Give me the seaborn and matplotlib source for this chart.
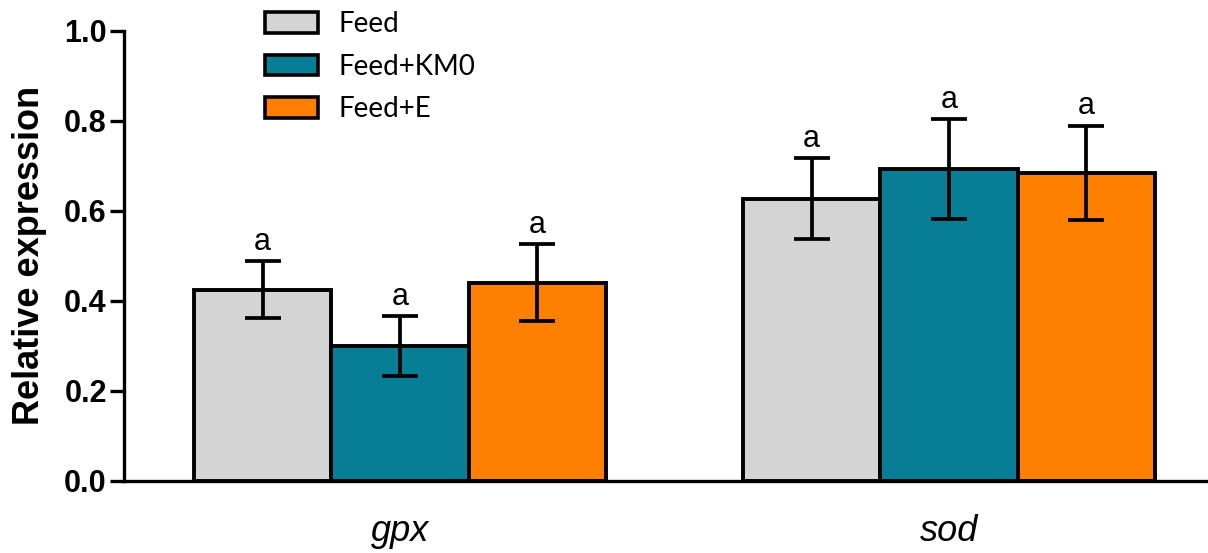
import matplotlib
matplotlib.use("Agg")
import matplotlib.pyplot as plt
from matplotlib.patches import Patch
import seaborn as sns
import pandas as pd

# Gene expression means and standard errors per treatment
genes = ["gpx", "sod"]
treatments = ["Feed", "Feed+KM0", "Feed+E"]
feed_mean = [0.425, 0.627]
km0_mean = [0.300, 0.692]
e_mean = [0.440, 0.684]
feed_err = [0.063, 0.090]
km0_err = [0.066, 0.111]
e_err = [0.085, 0.105]
letters_feed = ["a", "a"]
letters_km0 = ["a", "a"]
letters_e = ["a", "a"]

colors = ["#d4d4d4", "#077d96", "#ff8000"]

means = [feed_mean, km0_mean, e_mean]
errs = [feed_err, km0_err, e_err]
letters = [letters_feed, letters_km0, letters_e]

rows = []
for t, m in zip(treatments, means):
    for g, v in zip(genes, m):
        rows.append({"gene": g, "treatment": t, "value": v})
df = pd.DataFrame(rows)

sns.set_style("ticks")
plt.rcParams["font.family"] = ["Liberation Sans", "DejaVu Sans"]
plt.rcParams["text.color"] = "black"
plt.rcParams["axes.labelcolor"] = "black"
plt.rcParams["xtick.color"] = "black"
plt.rcParams["ytick.color"] = "black"
plt.rcParams["axes.edgecolor"] = "black"

fig = plt.figure(figsize=(12.08, 5.53), dpi=100)
ax_left = 123.5 / 1208
ax_bottom = 1 - 481 / 553
ax_top = 1 - 30.5 / 553
ax = fig.add_axes([ax_left, ax_bottom, 1 - ax_left, ax_top - ax_bottom])

sns.barplot(data=df, x="gene", y="value", hue="treatment",
            order=genes, hue_order=treatments, palette=colors,
            errorbar=None, width=0.75, edgecolor="black", linewidth=2.8,
            saturation=1, legend=False, ax=ax)

for container, err, lab in zip(ax.containers, errs, letters):
    for bar, e, l in zip(container, err, lab):
        cx = bar.get_x() + bar.get_width() / 2
        h = bar.get_height()
        ax.errorbar(cx, h, yerr=e, fmt="none", ecolor="black",
                    elinewidth=2.7, capsize=13.3, capthick=2.7, zorder=5)
        ax.annotate(l, (cx, h + e), xytext=(0, 8), textcoords="offset points",
                    ha="center", va="baseline", fontsize=22, color="black")

ax.set_ylim(0, 1.0)
ax.set_xlim(-0.5036, 1.4718)
ax.set_yticks([0.0, 0.2, 0.4, 0.6, 0.8, 1.0])
ax.set_yticklabels(["0.0", "0.2", "0.4", "0.6", "0.8", "1.0"],
                   fontsize=22, fontweight="bold")
ax.set_xticks([0, 1])
ax.set_xticklabels(genes, fontsize=26, fontstyle="italic")
ax.tick_params(axis="x", length=0, pad=24)
ax.tick_params(axis="y", length=10, width=2.4, pad=2)
ax.set_xlabel("")
ax.set_ylabel("Relative expression", fontsize=26, fontweight="bold", labelpad=12)

for side in ["top", "right"]:
    ax.spines[side].set_visible(False)
for side in ["left", "bottom"]:
    ax.spines[side].set_linewidth(2.4)
    ax.spines[side].set_color("black")

handles = [Patch(facecolor=c, edgecolor="black", linewidth=2.6) for c in colors]
leg = fig.legend(handles, treatments, loc="upper left",
                 bbox_to_anchor=(265 / 1208, 1 - 11 / 553),
                 frameon=False, borderpad=0, borderaxespad=0,
                 handlelength=1.9, handleheight=0.78, handletextpad=0.75,
                 labelspacing=0.6, prop={"family": "Lato", "size": 20})

fig.savefig("out.png", dpi=100)
